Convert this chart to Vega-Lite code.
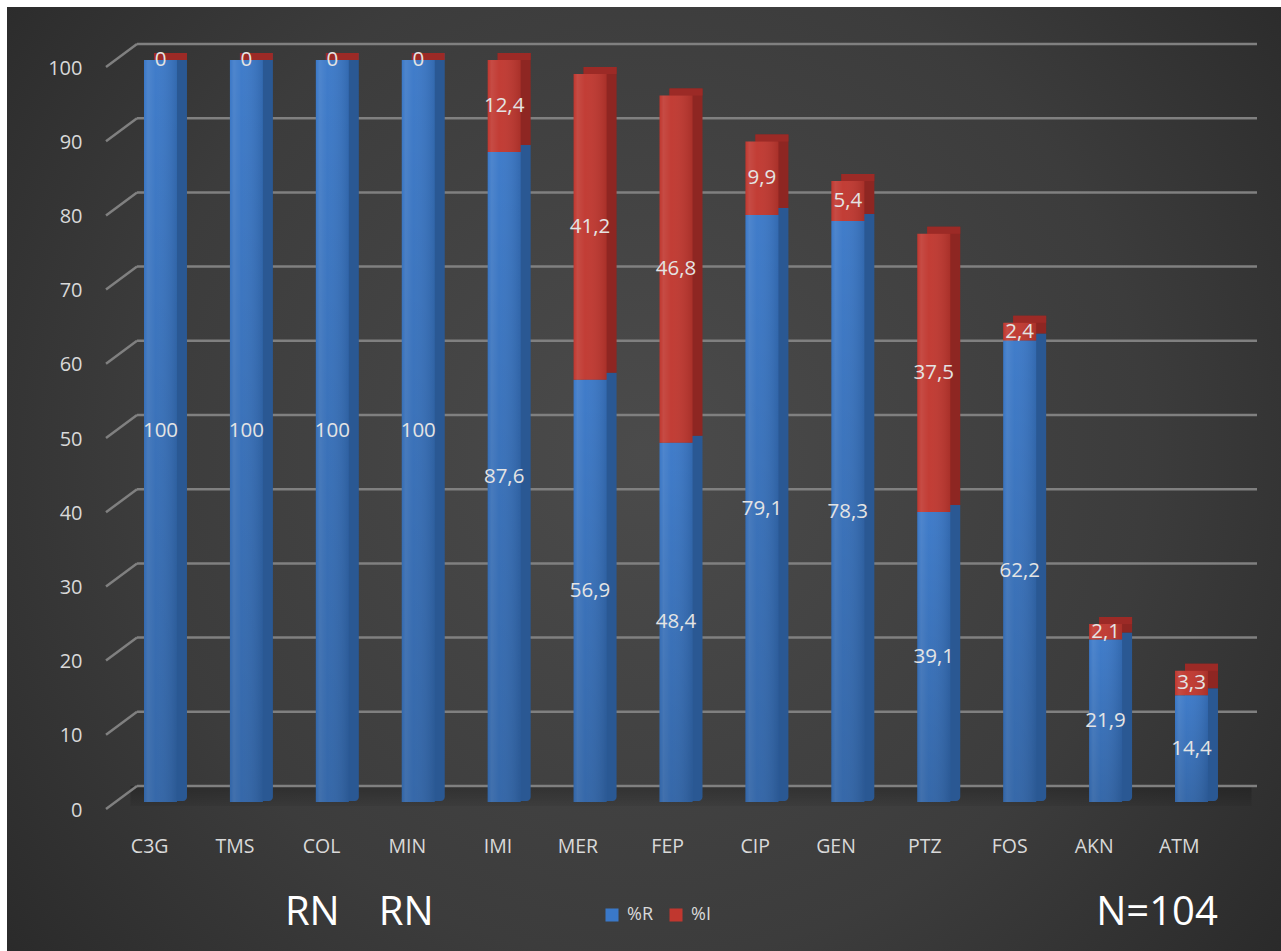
{
  "$schema": "https://vega.github.io/schema/vega-lite/v6.json",
  "width": 1274,
  "height": 944,
  "padding": {"left": 7, "top": 7, "right": 0, "bottom": 0},
  "autosize": {"type": "none"},
  "background": "#ffffff",
  "view": {
    "stroke": null,
    "fill": {
      "gradient": "radial",
      "x1": 0.5, "y1": 0.48, "r1": 0,
      "x2": 0.5, "y2": 0.48, "r2": 0.72,
      "stops": [
        {"offset": 0, "color": "#4b4b4b"},
        {"offset": 0.55, "color": "#3c3c3c"},
        {"offset": 1, "color": "#242424"}
      ]
    }
  },
  "config": {
    "locale": {"number": {"decimal": ",", "thousands": ".", "grouping": [3], "currency": ["", " €"]}},
    "font": "Open Sans"
  },
  "datasets": {
    "resistance": [
      {"cat": "C3G", "s": "%R", "v": 100}, {"cat": "C3G", "s": "%I", "v": 0},
      {"cat": "TMS", "s": "%R", "v": 100}, {"cat": "TMS", "s": "%I", "v": 0},
      {"cat": "COL", "s": "%R", "v": 100}, {"cat": "COL", "s": "%I", "v": 0},
      {"cat": "MIN", "s": "%R", "v": 100}, {"cat": "MIN", "s": "%I", "v": 0},
      {"cat": "IMI", "s": "%R", "v": 87.6}, {"cat": "IMI", "s": "%I", "v": 12.4},
      {"cat": "MER", "s": "%R", "v": 56.9}, {"cat": "MER", "s": "%I", "v": 41.2},
      {"cat": "FEP", "s": "%R", "v": 48.4}, {"cat": "FEP", "s": "%I", "v": 46.8},
      {"cat": "CIP", "s": "%R", "v": 79.1}, {"cat": "CIP", "s": "%I", "v": 9.9},
      {"cat": "GEN", "s": "%R", "v": 78.3}, {"cat": "GEN", "s": "%I", "v": 5.4},
      {"cat": "PTZ", "s": "%R", "v": 39.1}, {"cat": "PTZ", "s": "%I", "v": 37.5},
      {"cat": "FOS", "s": "%R", "v": 62.2}, {"cat": "FOS", "s": "%I", "v": 2.4},
      {"cat": "AKN", "s": "%R", "v": 21.9}, {"cat": "AKN", "s": "%I", "v": 2.1},
      {"cat": "ATM", "s": "%R", "v": 14.4}, {"cat": "ATM", "s": "%I", "v": 3.3}
    ],
    "grid": [
      {"g": 0}, {"g": 10}, {"g": 20}, {"g": 30}, {"g": 40}, {"g": 50},
      {"g": 60}, {"g": 70}, {"g": 80}, {"g": 90}, {"g": 100}
    ],
    "one": [{"k": 1}]
  },
  "layer": [
    {
      "data": {"name": "one"},
      "mark": {
        "type": "rect",
        "xOffset": -30, "x2Offset": 60, "yOffset": -16, "y2Offset": 4,
        "fill": {
          "gradient": "linear", "x1": 0, "y1": 0, "x2": 0, "y2": 1,
          "stops": [
            {"offset": 0, "color": "rgba(0,0,0,0.24)"},
            {"offset": 1, "color": "rgba(0,0,0,0.06)"}
          ]
        }
      },
      "encoding": {
        "x": {"datum": "C3G", "type": "nominal", "bandPosition": 0.5},
        "x2": {"datum": "ATM", "bandPosition": 0.5},
        "y": {"datum": 0, "type": "quantitative"},
        "y2": {"datum": 0}
      }
    },
    {
      "data": {"name": "grid"},
      "mark": {"type": "rule", "color": "#808080", "strokeWidth": 2.5, "xOffset": -23.5, "x2Offset": 65.5, "yOffset": -16, "y2Offset": -16},
      "encoding": {
        "x": {"datum": "C3G", "type": "nominal", "bandPosition": 0.5},
        "x2": {"datum": "ATM", "bandPosition": 0.5},
        "y": {"field": "g", "type": "quantitative"},
        "y2": {"field": "g"}
      }
    },
    {
      "data": {"name": "grid"},
      "mark": {"type": "rule", "color": "#808080", "strokeWidth": 2.5, "xOffset": -54.5, "x2Offset": -23.5, "yOffset": 7, "y2Offset": -16},
      "encoding": {
        "x": {"datum": "C3G", "type": "nominal", "bandPosition": 0.5},
        "x2": {"datum": "C3G", "bandPosition": 0.5},
        "y": {"field": "g", "type": "quantitative"},
        "y2": {"field": "g"}
      }
    },
    {
      "data": {"name": "resistance"},
      "transform": [
        {"stack": "v", "groupby": ["cat"], "sort": [{"field": "s", "order": "descending"}], "as": ["v0", "v1"]}
      ],
      "layer": [
        {
          "transform": [{"filter": "datum.s === '%R'"}],
          "mark": {"type": "bar", "xOffset": 10, "yOffset": -7, "y2Offset": -1, "fill": "#2a5893", "cornerRadiusBottomRight": 4},
          "encoding": {
            "x": {"field": "cat", "type": "nominal"},
            "y": {"field": "v1", "type": "quantitative"},
            "y2": {"field": "v0"}
          }
        },
        {
          "transform": [{"filter": "datum.s === '%I'"}],
          "mark": {"type": "bar", "xOffset": 10, "yOffset": -7, "y2Offset": -7, "fill": "#8e2622"},
          "encoding": {
            "x": {"field": "cat", "type": "nominal"},
            "y": {"field": "v1", "type": "quantitative"},
            "y2": {"field": "v0"}
          }
        },
        {
          "transform": [{"filter": "datum.s === '%I'"}],
          "mark": {"type": "bar", "xOffset": 10, "yOffset": -7, "y2Offset": 0, "fill": "#9c2a26"},
          "encoding": {
            "x": {"field": "cat", "type": "nominal"},
            "y": {"field": "v1", "type": "quantitative"},
            "y2": {"field": "v1"}
          }
        },
        {
          "mark": {"type": "bar"},
          "encoding": {
            "x": {
              "field": "cat", "type": "nominal",
              "sort": ["C3G", "TMS", "COL", "MIN", "IMI", "MER", "FEP", "CIP", "GEN", "PTZ", "FOS", "AKN", "ATM"],
              "scale": {
                "type": "band",
                "domain": ["C3G", "TMS", "COL", "MIN", "IMI", "MER", "FEP", "CIP", "GEN", "PTZ", "FOS", "AKN", "ATM"],
                "range": [99, 1239],
                "paddingInner": 0.616,
                "paddingOuter": 0.4423
              },
              "axis": {
                "title": null, "domain": false, "ticks": false, "grid": false,
                "labelAngle": 0, "labelColor": "#d9d9d9", "labelFontSize": 19.5, "labelFont": "Open Sans",
                "labelPadding": 44, "labelOffset": 8, "offset": -149
              }
            },
            "y": {
              "field": "v1", "type": "quantitative",
              "scale": {"domain": [0, 100], "range": [795, 53], "nice": false, "zero": true},
              "axis": {
                "title": null, "domain": false, "ticks": false, "grid": false,
                "values": [0, 10, 20, 30, 40, 50, 60, 70, 80, 90, 100],
                "labelColor": "#d9d9d9", "labelFontSize": 20, "labelFont": "Open Sans",
                "labelPadding": 24, "labelOffset": 8, "offset": -99
              }
            },
            "y2": {"field": "v0"},
            "color": {
              "field": "s", "type": "nominal",
              "scale": {"domain": ["%R", "%I"], "range": ["#3a78c8", "#c0372f"]},
              "legend": {
                "orient": "none", "legendX": 596, "legendY": 899, "direction": "horizontal",
                "title": null, "symbolType": "square", "symbolSize": 170, "symbolStrokeWidth": 0,
                "labelFontSize": 18, "labelColor": "#d9d9d9", "labelFont": "Open Sans",
                "labelOffset": 6, "columnPadding": 14
              }
            }
          }
        },
        {
          "mark": {
            "type": "bar",
            "fill": {
              "gradient": "linear", "x1": 0, "y1": 0, "x2": 1, "y2": 0,
              "stops": [
                {"offset": 0, "color": "rgba(255,255,255,0.0)"},
                {"offset": 0.12, "color": "rgba(255,255,255,0.10)"},
                {"offset": 0.35, "color": "rgba(255,255,255,0.03)"},
                {"offset": 1, "color": "rgba(0,0,0,0.12)"}
              ]
            }
          },
          "encoding": {
            "x": {"field": "cat", "type": "nominal"},
            "y": {"field": "v1", "type": "quantitative"},
            "y2": {"field": "v0"}
          }
        },
        {
          "transform": [{"filter": "datum.s === '%R'"}],
          "mark": {
            "type": "bar",
            "fill": {
              "gradient": "linear", "x1": 0, "y1": 0, "x2": 0, "y2": 1,
              "stops": [
                {"offset": 0, "color": "rgba(0,0,0,0.0)"},
                {"offset": 1, "color": "rgba(0,0,0,0.16)"}
              ]
            }
          },
          "encoding": {
            "x": {"field": "cat", "type": "nominal"},
            "y": {"field": "v1", "type": "quantitative"},
            "y2": {"field": "v0"}
          }
        },
        {
          "transform": [
            {"fold": ["v0", "v1"], "as": ["edge", "pos"]},
            {"aggregate": [{"op": "mean", "field": "pos", "as": "mid"}], "groupby": ["cat", "s", "v"]}
          ],
          "mark": {"type": "text", "fontSize": 20.5, "font": "Open Sans", "color": "#e4e4e4", "baseline": "middle", "align": "center"},
          "encoding": {
            "x": {"field": "cat", "type": "nominal"},
            "y": {"field": "mid", "type": "quantitative"},
            "text": {"field": "v", "type": "quantitative", "format": ".1~f"}
          }
        }
      ]
    },
    {
      "data": {"name": "one"},
      "mark": {"type": "text", "fontSize": 40, "font": "Open Sans", "color": "#ffffff", "baseline": "middle", "align": "center", "xOffset": -20},
      "encoding": {
        "x": {"datum": "COL", "type": "nominal"},
        "y": {"datum": -15, "type": "quantitative"},
        "text": {"value": "RN"}
      }
    },
    {
      "data": {"name": "one"},
      "mark": {"type": "text", "fontSize": 40, "font": "Open Sans", "color": "#ffffff", "baseline": "middle", "align": "center", "xOffset": -12},
      "encoding": {
        "x": {"datum": "MIN", "type": "nominal"},
        "y": {"datum": -15, "type": "quantitative"},
        "text": {"value": "RN"}
      }
    },
    {
      "data": {"name": "one"},
      "mark": {"type": "text", "fontSize": 40, "font": "Open Sans", "color": "#ffffff", "baseline": "middle", "align": "center", "xOffset": -34.5},
      "encoding": {
        "x": {"datum": "ATM", "type": "nominal"},
        "y": {"datum": -15, "type": "quantitative"},
        "text": {"value": "N=104"}
      }
    }
  ]
}
